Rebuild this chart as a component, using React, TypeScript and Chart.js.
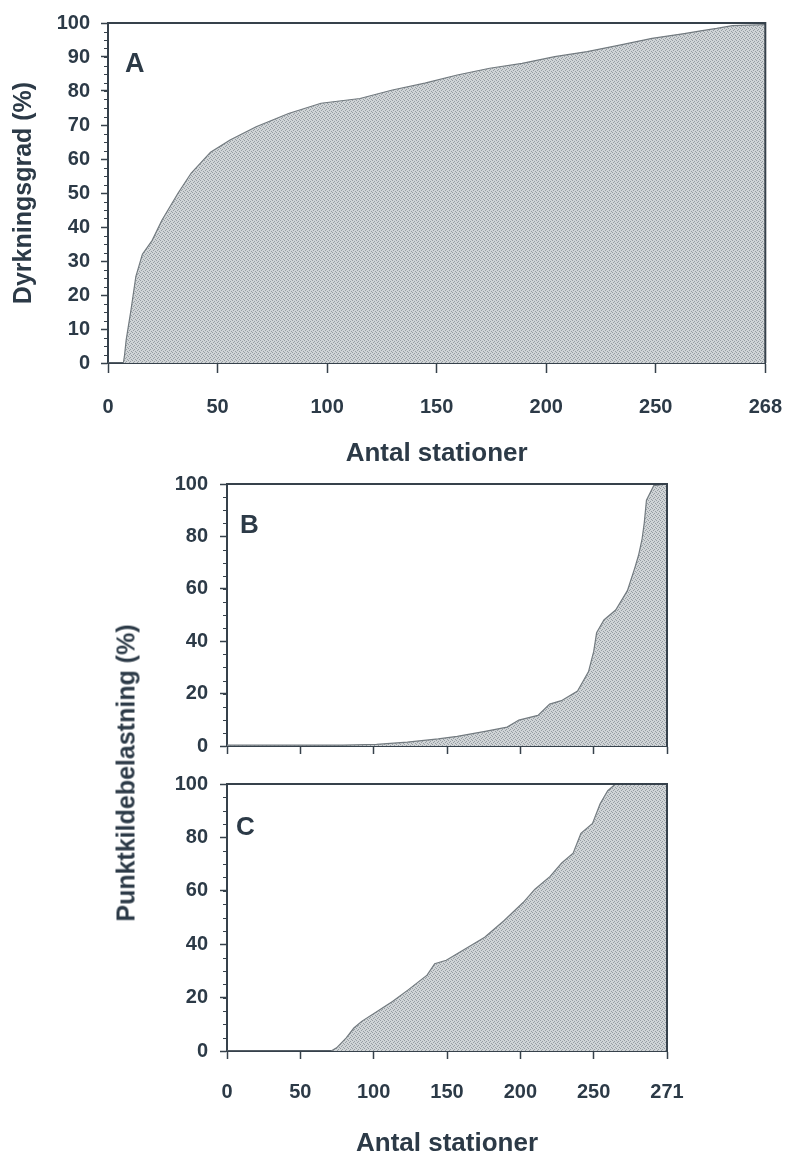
import React, { useEffect, useRef } from 'react';
import { Chart, registerables } from 'chart.js';

Chart.register(...registerables);

// ---------- data ----------
const xTickValues = [0, 50, 100, 150, 200, 250, 300];
const xTickLabelsA = ['0', '50', '100', '150', '200', '250', '268'];
const xTickLabelsBC = ['0', '50', '100', '150', '200', '250', '271'];

// Panel A – Dyrkningsgrad (%)
const stationsA = [0, 7, 7.5, 8.3, 10.5, 12.7, 15.7, 20.1, 24.6, 32, 37.9, 46.8, 55.7, 67.6, 82.4, 97.2, 115, 129.8, 144.6, 159.4, 174.2, 189, 203.9, 218.7, 233.5, 248.3, 263, 270.5, 277.8, 285, 300];
const dyrkningsgrad = [0, 0, 2, 6.8, 15.6, 25.4, 32, 36, 42, 50, 55.8, 62, 65.6, 69.5, 73.4, 76.4, 77.8, 80.3, 82.3, 84.7, 86.7, 88.1, 90.1, 91.6, 93.5, 95.5, 96.9, 97.7, 98.4, 99.2, 99.5];

// Panel B – Punktkildebelastning (%)
const stationsB = [0, 79, 102, 123, 144, 157, 176, 191, 199, 212, 220, 228, 239, 246.5, 250, 252, 257, 265, 273, 278, 280.6, 283, 284.5, 286, 291, 300];
const punktkildeB = [0.3, 0.3, 0.6, 1.5, 2.7, 3.7, 5.6, 7.2, 9.9, 11.7, 16, 17.3, 21, 28.4, 36, 43.2, 48.1, 51.9, 59.3, 67.9, 72.8, 79, 85.2, 93.8, 99.4, 100];

// Panel C – Punktkildebelastning (%)
const stationsC = [0, 71, 74.7, 81.3, 86.5, 91.8, 102.3, 112.8, 123.3, 136.4, 141.6, 149.5, 162.6, 175.7, 188.8, 201.9, 209.8, 220.3, 228.2, 236, 241.3, 249.2, 254.4, 259.6, 264.9, 300];
const punktkildeC = [0, 0, 1.2, 4.9, 8.6, 11.1, 14.8, 18.5, 22.8, 28.4, 32.7, 34, 38.3, 42.6, 48.8, 55.6, 60.5, 65.4, 70.4, 74.1, 81.5, 85.2, 92.6, 97.5, 100, 100];

// ---------- styles ----------
const TEXT = '#2c3a47';
const AXIS = '#36414b';
const FONT = '"Liberation Sans", Arial, Helvetica, sans-serif';

function makePattern(ctx: CanvasRenderingContext2D) {
  const c = document.createElement('canvas');
  c.width = 4;
  c.height = 4;
  const g = c.getContext('2d')!;
  g.fillStyle = '#d0d4d6';
  g.fillRect(0, 0, 4, 4);
  g.fillStyle = '#969da3';
  g.fillRect(0, 0, 1, 1);
  g.fillRect(2, 1, 1, 1);
  g.fillRect(1, 2, 1, 1);
  g.fillRect(3, 3, 1, 1);
  return ctx.createPattern(c, 'repeat');
}

const boxPlugin = {
  id: 'boxPlugin',
  afterDraw(chart: any) {
    const { ctx, chartArea } = chart;
    ctx.save();
    ctx.strokeStyle = AXIS;
    ctx.lineWidth = 2;
    ctx.beginPath();
    ctx.moveTo(chartArea.left, chartArea.top);
    ctx.lineTo(chartArea.right, chartArea.top);
    ctx.lineTo(chartArea.right, chartArea.bottom);
    ctx.stroke();
    ctx.restore();
  },
};

const minorTicks = {
  id: 'minorTicks',
  afterDraw(chart: any, _args: any, opts: any) {
    const y = chart.scales.y;
    const ctx = chart.ctx;
    ctx.save();
    ctx.strokeStyle = AXIS;
    ctx.lineWidth = 1;
    for (let v = y.min; v <= y.max + 1e-9; v += opts.step) {
      const py = Math.round(y.getPixelForValue(v)) + 0.5;
      ctx.beginPath();
      ctx.moveTo(y.right - opts.len, py);
      ctx.lineTo(y.right, py);
      ctx.stroke();
    }
    ctx.restore();
  },
};

const panelLabel = {
  id: 'panelLabel',
  afterDraw(chart: any, _args: any, opts: any) {
    const { ctx, chartArea } = chart;
    ctx.save();
    ctx.fillStyle = TEXT;
    ctx.font = `bold ${opts.size}px ${FONT}`;
    ctx.textAlign = 'left';
    ctx.textBaseline = 'alphabetic';
    ctx.fillText(opts.text, chartArea.left + opts.dx, chartArea.top + opts.dy);
    ctx.restore();
  },
};

type PanelCfg = {
  xs: number[];
  ys: number[];
  xLabels: string[];
  showXLabels: boolean;
  xTitle?: string;
  yTitle?: string;
  yStep: number;
  minorStep: number;
  padding: { left: number; top: number; right: number; bottom: number };
  yWidth: number;
  xHeight: number;
  xTickLen: number;
  xTickPad: number;
  xTitlePadBottom: number;
  yTickPad: number;
  yTitlePadTop: number;
  label: { text: string; dx: number; dy: number; size: number };
};

function buildChart(canvas: HTMLCanvasElement, p: PanelCfg) {
  const ctx = canvas.getContext('2d')!;
  const pattern = makePattern(ctx);
  const tickFont = { family: FONT, size: 20, weight: 'bold' as const };
  const titleFont = { family: FONT, size: 26, weight: 'bold' as const };
  return new Chart(ctx, {
    type: 'line',
    data: {
      datasets: [
        {
          data: p.xs.map((x, i) => ({ x, y: p.ys[i] })),
          borderColor: '#737b80',
          borderWidth: 1.2,
          backgroundColor: pattern as any,
          fill: 'origin',
          pointRadius: 0,
          tension: 0,
        },
      ],
    },
    options: {
      responsive: false,
      animation: false,
      events: [],
      layout: { padding: p.padding },
      plugins: {
        legend: { display: false },
        tooltip: { enabled: false },
        minorTicks: { step: p.minorStep, len: 4 },
        panelLabel: p.label,
      } as any,
      scales: {
        x: {
          type: 'linear',
          min: 0,
          max: 300,
          afterBuildTicks: (scale: any) => {
            scale.ticks = xTickValues.map((v) => ({ value: v }));
          },
          ticks: {
            display: p.showXLabels,
            autoSkip: false,
            maxRotation: 0,
            minRotation: 0,
            padding: p.xTickPad,
            color: TEXT,
            font: tickFont,
            callback: (v: any) => p.xLabels[xTickValues.indexOf(Number(v))],
          },
          grid: {
            drawOnChartArea: false,
            drawTicks: true,
            tickLength: p.xTickLen,
            tickColor: AXIS,
            tickWidth: 1.5,
          },
          border: { display: true, color: AXIS, width: 2 },
          title: {
            display: !!p.xTitle,
            text: p.xTitle || '',
            color: TEXT,
            font: { ...titleFont, lineHeight: 1.2 },
            padding: { top: 0, bottom: p.xTitlePadBottom },
          },
          afterFit: (s: any) => {
            s.height = p.xHeight;
          },
        },
        y: {
          type: 'linear',
          min: 0,
          max: 100,
          ticks: {
            stepSize: p.yStep,
            padding: p.yTickPad,
            color: TEXT,
            font: tickFont,
          },
          grid: {
            drawOnChartArea: false,
            drawTicks: true,
            tickLength: 7,
            tickColor: AXIS,
            tickWidth: 1.5,
          },
          border: { display: true, color: AXIS, width: 2 },
          title: {
            display: !!p.yTitle,
            text: p.yTitle || '',
            color: TEXT,
            font: { ...titleFont, size: 25 },
            padding: { top: p.yTitlePadTop, bottom: 0 },
          },
          afterFit: (s: any) => {
            s.width = p.yWidth;
          },
        },
      },
    } as any,
    plugins: [boxPlugin, minorTicks, panelLabel],
  });
}

function Panel(props: { top: number; height: number; cfg: PanelCfg }) {
  const ref = useRef<HTMLCanvasElement>(null);
  useEffect(() => {
    const chart = buildChart(ref.current!, props.cfg);
    return () => chart.destroy();
  }, []);
  return (
    <canvas
      ref={ref}
      width={804}
      height={props.height}
      style={{ position: 'absolute', left: 0, top: props.top, width: 804, height: props.height }}
    />
  );
}

const cfgA: PanelCfg = {
  xs: stationsA,
  ys: dyrkningsgrad,
  xLabels: xTickLabelsA,
  showXLabels: true,
  xTitle: 'Antal stationer',
  yTitle: 'Dyrkningsgrad (%)',
  yStep: 10,
  minorStep: 2.5,
  padding: { left: 0, top: 23, right: 21, bottom: 0 },
  yWidth: 108,
  xHeight: 117,
  xTickLen: 10,
  xTickPad: 22,
  xTitlePadBottom: 11,
  yTickPad: 11,
  yTitlePadTop: 9,
  label: { text: 'A', dx: 17, dy: 49, size: 27 },
};

const cfgB: PanelCfg = {
  xs: stationsB,
  ys: punktkildeB,
  xLabels: xTickLabelsBC,
  showXLabels: false,
  yStep: 20,
  minorStep: 5,
  padding: { left: 0, top: 23, right: 137, bottom: 0 },
  yWidth: 227,
  xHeight: 16,
  xTickLen: 8,
  xTickPad: 21,
  xTitlePadBottom: 0,
  yTickPad: 12,
  yTitlePadTop: 0,
  label: { text: 'B', dx: 13, dy: 49, size: 26 },
};

const cfgC: PanelCfg = {
  xs: stationsC,
  ys: punktkildeC,
  xLabels: xTickLabelsBC,
  showXLabels: true,
  xTitle: 'Antal stationer',
  yStep: 20,
  minorStep: 5,
  padding: { left: 0, top: 19, right: 137, bottom: 0 },
  yWidth: 227,
  xHeight: 102,
  xTickLen: 8,
  xTickPad: 21,
  xTitlePadBottom: -6,
  yTickPad: 12,
  yTitlePadTop: 0,
  label: { text: 'C', dx: 9, dy: 51, size: 26 },
};

export default function App() {
  return (
    <div
      style={{
        position: 'absolute',
        left: 0,
        top: 0,
        width: 804,
        height: 1153,
        background: '#ffffff',
        overflow: 'hidden',
      }}
    >
      <Panel top={0} height={480} cfg={cfgA} />
      <Panel top={460} height={310} cfg={cfgB} />
      <Panel top={760} height={393} cfg={cfgC} />
      <div
        style={{
          position: 'absolute',
          left: 126,
          top: 773,
          transform: 'translate(-50%, -50%) rotate(-90deg)',
          whiteSpace: 'nowrap',
          fontFamily: FONT,
          fontWeight: 'bold',
          fontSize: 25,
          color: TEXT,
          lineHeight: 1,
        }}
      >
        Punktkildebelastning (%)
      </div>
    </div>
  );
}
